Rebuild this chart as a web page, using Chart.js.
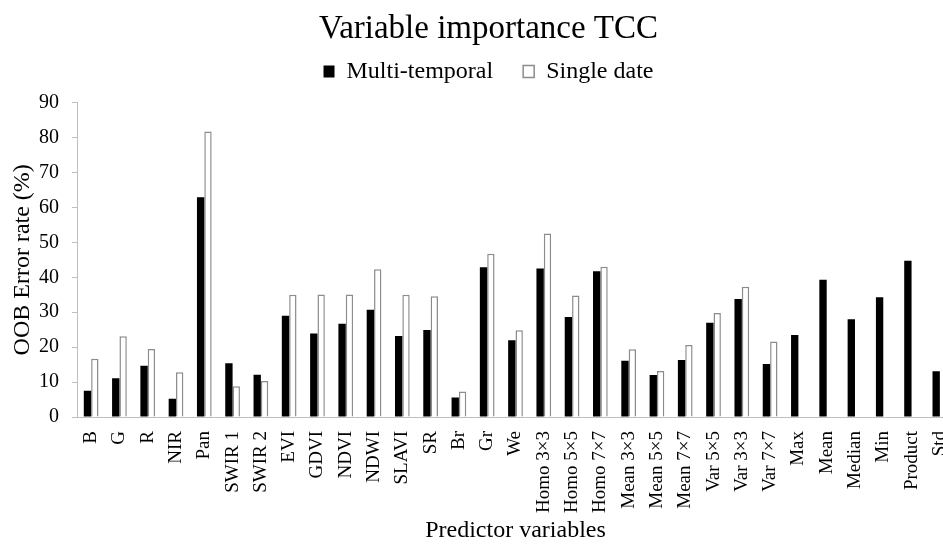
<!DOCTYPE html>
<html>
<head>
<meta charset="utf-8">
<script src="https://cdn.jsdelivr.net/npm/chart.js@4"></script>
<style>
  html, body { margin: 0; padding: 0; background: #fff; overflow: hidden; }
  #wrap { width: 985px; height: 545px; }
</style>
</head>
<body>
<div id="wrap"><canvas id="chart" width="985" height="545"></canvas></div>
<script>
// Predictor variables (x axis)
const predictors = ['B', 'G', 'R', 'NIR', 'Pan', 'SWIR 1', 'SWIR 2', 'EVI', 'GDVI', 'NDVI', 'NDWI',
    'SLAVI', 'SR', 'Br', 'Gr', 'We', 'Homo 3\u00d73', 'Homo 5\u00d75', 'Homo 7\u00d77',
    'Mean 3\u00d73', 'Mean 5\u00d75', 'Mean 7\u00d77', 'Var 5\u00d75', 'Var 3\u00d73', 'Var 7\u00d77',
    'Max', 'Mean', 'Median', 'Min', 'Product', 'Std'];

// OOB error rate (%)
const multiTemporal = [7.5, 11.1, 14.7, 5.2, 62.9, 15.4, 12.1, 29.0, 23.9, 26.7, 30.7,
    23.2, 24.9, 5.6, 42.9, 22.0, 42.5, 28.6, 41.7,
    16.1, 12.0, 16.3, 27.0, 33.8, 15.2,
    23.5, 39.3, 28.0, 34.3, 44.7, 13.1];
const singleDate = [16.7, 23.1, 19.5, 12.8, 81.7, 8.8, 10.3, 35.0, 35.1, 35.1, 42.3,
    35.0, 34.6, 7.3, 46.7, 24.8, 52.5, 34.8, 43.0,
    19.4, 13.2, 20.6, 29.8, 37.3, 21.6,
    null, null, null, null, null, null];

const yTicks = [0, 10, 20, 30, 40, 50, 60, 70, 80, 90];

const serif = '"Liberation Serif", "Times New Roman", serif';

// a bit of space under the legend
const legendSpacer = {
    id: 'legendSpacer',
    beforeInit(chart) {
        const fit = chart.legend.fit;
        chart.legend.fit = function () {
            fit.bind(chart.legend)();
            this.height += 9;
        };
    }
};

const ctx = document.getElementById('chart').getContext('2d');
const chart = new Chart(ctx, {
    type: 'bar',
    data: {
        labels: predictors,
        datasets: [{
            label: 'Multi-temporal',
            data: multiTemporal,
            backgroundColor: '#000000',
            borderColor: '#000000',
            borderWidth: 0,
            categoryPercentage: 0.52,
            barPercentage: 1.0
        }, {
            label: 'Single date',
            data: singleDate,
            backgroundColor: '#ffffff',
            borderColor: '#8c8c8c',
            borderWidth: 1.5,
            categoryPercentage: 0.52,
            barPercentage: 1.0
        }]
    },
    options: {
        responsive: false,
        animation: false,
        layout: { padding: { top: 0, right: 31, bottom: 0, left: 23 } },
        plugins: {
            title: {
                display: true,
                text: 'Variable importance TCC',
                color: '#000',
                font: { family: serif, size: 33, weight: 'normal' },
                padding: { top: 10, bottom: -20 }
            },
            legend: {
                display: true,
                position: 'top',
                labels: {
                    color: '#000',
                    font: { family: serif, size: 24 },
                    boxWidth: 11,
                    boxHeight: 12,
                    padding: 30
                }
            },
            tooltip: { enabled: false }
        },
        scales: {
            x: {
                grid: { display: false },
                border: { display: true, color: '#bfbfbf', width: 1 },
                ticks: {
                    color: '#000',
                    font: { family: serif, size: 19 },
                    minRotation: 90,
                    maxRotation: 90,
                    autoSkip: false,
                    padding: 6
                },
                title: {
                    display: true,
                    text: 'Predictor variables',
                    color: '#000',
                    font: { family: serif, size: 24 },
                    padding: { top: 0, bottom: 0 }
                },
                afterFit(scale) { scale.height = 128; }
            },
            y: {
                min: 0,
                max: 90,
                afterBuildTicks(scale) { scale.ticks = yTicks.map(v => ({ value: v })); },
                grid: {
                    display: true,
                    drawOnChartArea: false,
                    drawTicks: true,
                    tickLength: 5,
                    color: '#bfbfbf'
                },
                border: { display: true, color: '#bfbfbf', width: 1 },
                ticks: {
                    color: '#000',
                    font: { family: serif, size: 20 },
                    padding: 13
                },
                title: {
                    display: true,
                    text: 'OOB Error rate (%)',
                    color: '#000',
                    font: { family: serif, size: 24 },
                    padding: { top: -15, bottom: 0 }
                },
                afterFit(scale) { scale.width = 54; }
            }
        }
    },
    plugins: [legendSpacer]
});
</script>
</body>
</html>
